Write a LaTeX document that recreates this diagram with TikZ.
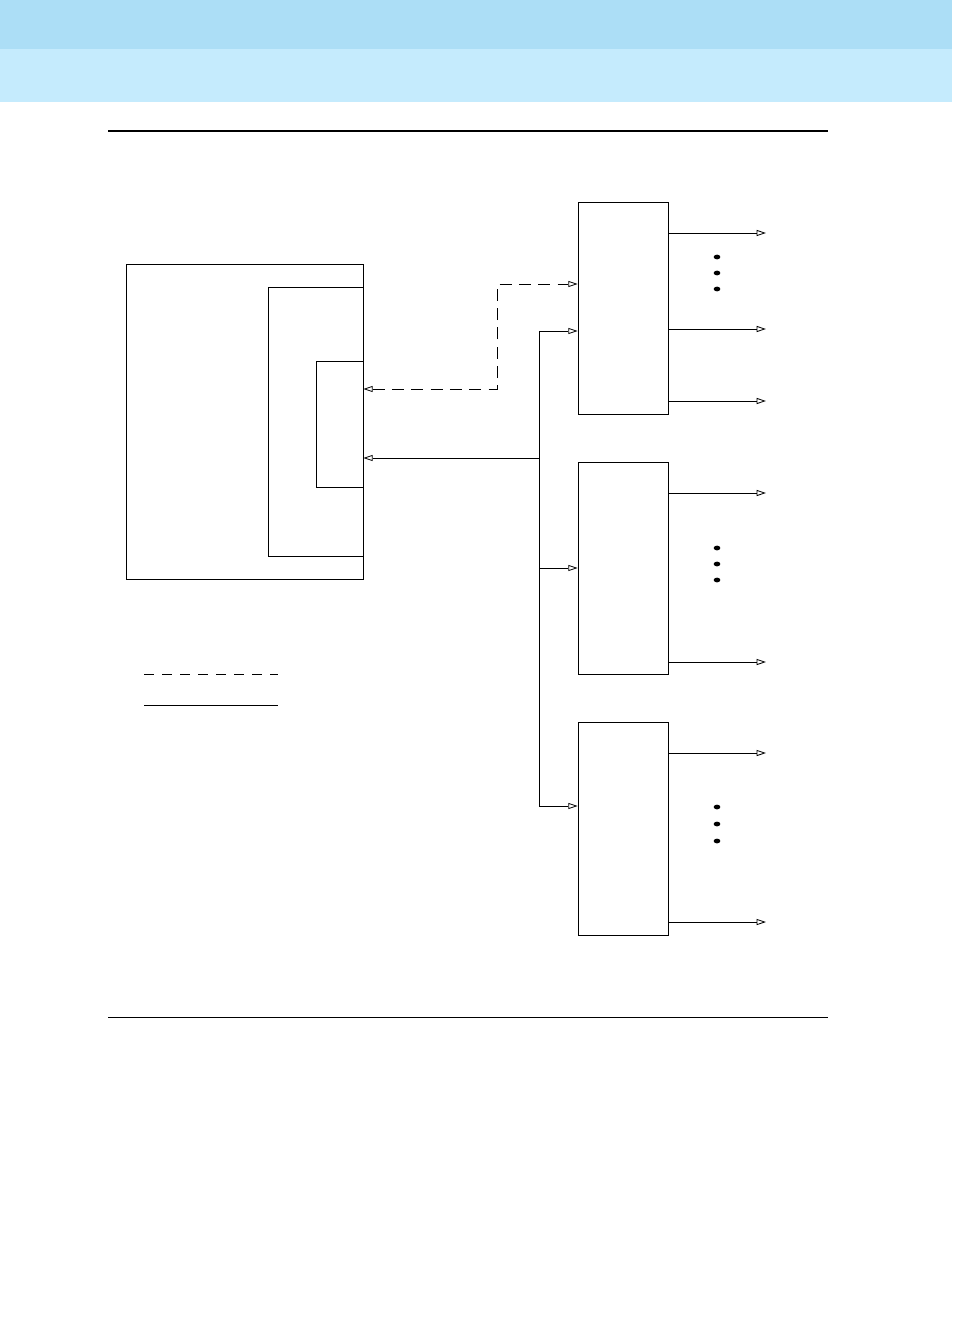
\documentclass[tikz,border=0pt]{standalone}
\usetikzlibrary{arrows.meta,fit,shapes.geometric}
\definecolor{bandA}{HTML}{ACDEF6}
\definecolor{bandB}{HTML}{C5EBFD}
\tikzset{
  box/.style={draw, line width=0.6pt, inner sep=0pt},
  ln/.style={line width=0.6pt},
  tip/.style={-{Triangle[open,length=7pt,width=4.5pt]}},
  dtip/.style={{Triangle[open,length=7pt,width=4.5pt]}-{Triangle[open,length=7pt,width=4.5pt]}},
  dsh/.style={dash pattern=on 9pt off 5.5pt},
  dot/.style={fill, ellipse, inner sep=0pt, minimum width=5pt, minimum height=3.6pt}
}
\begin{document}
\begin{tikzpicture}[x=0.75pt,y=-0.75pt]
\useasboundingbox (0,0) rectangle (952,1326);
\fill[white] (0,0) rectangle (952,1326);
\fill[bandA] (0,0) rectangle (952,49);
\fill[bandB] (0,49) rectangle (952,102);
\draw[line width=1.6pt] (108,131) coordinate (tl) -- (828,131) coordinate (tr);
\draw[line width=0.7pt] (108,1017) coordinate (bl) -- (828,1017) coordinate (br);
% left boxes
\node[box, fit={(126,264) (363,579)}] (big) {};
\node[box, fit={(268,287) (363,556)}] (mid) {};
\node[box, fit={(316,361) (363,487)}] (small) {};
% right boxes
\node[box, fit={(578,202) (668,414)}] (b1) {};
\node[box, fit={(578,462) (668,674)}] (b2) {};
\node[box, fit={(578,722) (668,935)}] (b3) {};
% dashed link
\coordinate (d1) at (497,284);
\coordinate (d2) at (497,389);
\draw[ln,dsh,dtip] (big.east |- d2) -- (d2) -- (d1) -- (b1.west |- d1);
% solid bus
\coordinate (bus) at (539,458);
\coordinate (btop) at (539,331);
\coordinate (bmid) at (539,568);
\coordinate (bbot) at (539,806);
\draw[ln,tip] (bus) -- (big.east |- bus);
\draw[ln] (btop) -- (bbot);
\draw[ln,tip] (btop) -- (b1.west |- btop);
\draw[ln,tip] (bmid) -- (b2.west |- bmid);
\draw[ln,tip] (bbot) -- (b3.west |- bbot);
% outputs
\foreach \n/\y in {a/233,b/329,c/401}{
  \coordinate (o1\n) at (766,\y);
  \draw[ln,tip] (b1.east |- o1\n) -- (o1\n);}
\foreach \n/\y in {a/493,b/662}{
  \coordinate (o2\n) at (766,\y);
  \draw[ln,tip] (b2.east |- o2\n) -- (o2\n);}
\foreach \n/\y in {a/753,b/922}{
  \coordinate (o3\n) at (766,\y);
  \draw[ln,tip] (b3.east |- o3\n) -- (o3\n);}
% dots
\foreach \i/\y in {1/257,2/273,3/289,4/548,5/564,6/580,7/807,8/824,9/841}
  \node[dot] (dot\i) at (717,\y) {};
% legend
\coordinate (la1) at (144,674); \coordinate (la2) at (278,674);
\coordinate (lb1) at (144,705); \coordinate (lb2) at (278,705);
\draw[ln,dash pattern=on 7.5pt off 6pt] (la1) -- (la2);
\draw[ln] (lb1) -- (lb2);
\end{tikzpicture}
\end{document}
